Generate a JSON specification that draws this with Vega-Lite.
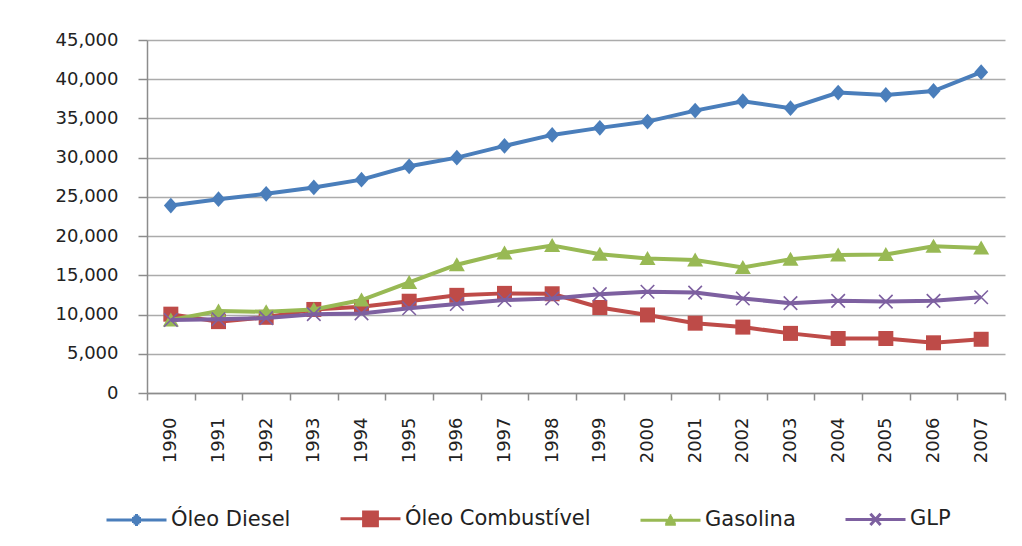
{
  "$schema": "https://vega.github.io/schema/vega-lite/v6.json",
  "width": 858,
  "height": 353,
  "autosize": {"type": "none"},
  "padding": {"left": 147, "top": 40, "right": 17, "bottom": 153},
  "background": "white",
  "config": {"view": {"stroke": null}, "font": "DejaVu Sans"},
  "datasets": {
    "d": [
      {"ano": "1990", "serie": "Óleo Diesel", "valor": 23900},
      {"ano": "1991", "serie": "Óleo Diesel", "valor": 24700},
      {"ano": "1992", "serie": "Óleo Diesel", "valor": 25400},
      {"ano": "1993", "serie": "Óleo Diesel", "valor": 26200},
      {"ano": "1994", "serie": "Óleo Diesel", "valor": 27200},
      {"ano": "1995", "serie": "Óleo Diesel", "valor": 28900},
      {"ano": "1996", "serie": "Óleo Diesel", "valor": 30000},
      {"ano": "1997", "serie": "Óleo Diesel", "valor": 31500},
      {"ano": "1998", "serie": "Óleo Diesel", "valor": 32900},
      {"ano": "1999", "serie": "Óleo Diesel", "valor": 33800},
      {"ano": "2000", "serie": "Óleo Diesel", "valor": 34600},
      {"ano": "2001", "serie": "Óleo Diesel", "valor": 36000},
      {"ano": "2002", "serie": "Óleo Diesel", "valor": 37200},
      {"ano": "2003", "serie": "Óleo Diesel", "valor": 36300},
      {"ano": "2004", "serie": "Óleo Diesel", "valor": 38300},
      {"ano": "2005", "serie": "Óleo Diesel", "valor": 38000},
      {"ano": "2006", "serie": "Óleo Diesel", "valor": 38500},
      {"ano": "2007", "serie": "Óleo Diesel", "valor": 40900},
      {"ano": "1990", "serie": "Óleo Combustível", "valor": 10050},
      {"ano": "1991", "serie": "Óleo Combustível", "valor": 9100},
      {"ano": "1992", "serie": "Óleo Combustível", "valor": 9650},
      {"ano": "1993", "serie": "Óleo Combustível", "valor": 10650},
      {"ano": "1994", "serie": "Óleo Combustível", "valor": 11000},
      {"ano": "1995", "serie": "Óleo Combustível", "valor": 11700},
      {"ano": "1996", "serie": "Óleo Combustível", "valor": 12450},
      {"ano": "1997", "serie": "Óleo Combustível", "valor": 12700},
      {"ano": "1998", "serie": "Óleo Combustível", "valor": 12650},
      {"ano": "1999", "serie": "Óleo Combustível", "valor": 10900},
      {"ano": "2000", "serie": "Óleo Combustível", "valor": 9950},
      {"ano": "2001", "serie": "Óleo Combustível", "valor": 8900},
      {"ano": "2002", "serie": "Óleo Combustível", "valor": 8400},
      {"ano": "2003", "serie": "Óleo Combustível", "valor": 7600},
      {"ano": "2004", "serie": "Óleo Combustível", "valor": 6950},
      {"ano": "2005", "serie": "Óleo Combustível", "valor": 6950},
      {"ano": "2006", "serie": "Óleo Combustível", "valor": 6400},
      {"ano": "2007", "serie": "Óleo Combustível", "valor": 6850},
      {"ano": "1990", "serie": "Gasolina", "valor": 9300},
      {"ano": "1991", "serie": "Gasolina", "valor": 10450},
      {"ano": "1992", "serie": "Gasolina", "valor": 10350},
      {"ano": "1993", "serie": "Gasolina", "valor": 10650},
      {"ano": "1994", "serie": "Gasolina", "valor": 11850},
      {"ano": "1995", "serie": "Gasolina", "valor": 14100},
      {"ano": "1996", "serie": "Gasolina", "valor": 16350},
      {"ano": "1997", "serie": "Gasolina", "valor": 17850},
      {"ano": "1998", "serie": "Gasolina", "valor": 18800},
      {"ano": "1999", "serie": "Gasolina", "valor": 17700},
      {"ano": "2000", "serie": "Gasolina", "valor": 17150},
      {"ano": "2001", "serie": "Gasolina", "valor": 16950},
      {"ano": "2002", "serie": "Gasolina", "valor": 16000},
      {"ano": "2003", "serie": "Gasolina", "valor": 17050},
      {"ano": "2004", "serie": "Gasolina", "valor": 17600},
      {"ano": "2005", "serie": "Gasolina", "valor": 17650},
      {"ano": "2006", "serie": "Gasolina", "valor": 18700},
      {"ano": "2007", "serie": "Gasolina", "valor": 18500},
      {"ano": "1990", "serie": "GLP", "valor": 9300},
      {"ano": "1991", "serie": "GLP", "valor": 9400},
      {"ano": "1992", "serie": "GLP", "valor": 9550},
      {"ano": "1993", "serie": "GLP", "valor": 10050},
      {"ano": "1994", "serie": "GLP", "valor": 10150},
      {"ano": "1995", "serie": "GLP", "valor": 10800},
      {"ano": "1996", "serie": "GLP", "valor": 11350},
      {"ano": "1997", "serie": "GLP", "valor": 11850},
      {"ano": "1998", "serie": "GLP", "valor": 12050},
      {"ano": "1999", "serie": "GLP", "valor": 12600},
      {"ano": "2000", "serie": "GLP", "valor": 12900},
      {"ano": "2001", "serie": "GLP", "valor": 12800},
      {"ano": "2002", "serie": "GLP", "valor": 12050},
      {"ano": "2003", "serie": "GLP", "valor": 11450},
      {"ano": "2004", "serie": "GLP", "valor": 11750},
      {"ano": "2005", "serie": "GLP", "valor": 11650},
      {"ano": "2006", "serie": "GLP", "valor": 11750},
      {"ano": "2007", "serie": "GLP", "valor": 12200}
    ]
  },
  "data": {"name": "d"},
  "encoding": {
    "x": {
      "field": "ano",
      "type": "ordinal",
      "scale": {"type": "band", "paddingInner": 0, "paddingOuter": 0},
      "axis": {
        "title": null,
        "labelAngle": -90,
        "tickBand": "extent",
        "tickSize": 7,
        "labelPadding": 17,
        "labelFontSize": 18,
        "labelFont": "DejaVu Sans",
        "labelColor": "#222222",
        "domainColor": "#8c8c8c",
        "domainWidth": 1.5,
        "tickColor": "#8c8c8c",
        "tickWidth": 1.5,
        "grid": false
      }
    },
    "y": {
      "field": "valor",
      "type": "quantitative",
      "scale": {"domain": [0, 45000], "nice": false},
      "axis": {
        "title": null,
        "values": [0, 5000, 10000, 15000, 20000, 25000, 30000, 35000, 40000, 45000],
        "format": ",.0f",
        "tickSize": 9,
        "labelPadding": 20,
        "labelFontSize": 18,
        "labelFont": "DejaVu Sans",
        "labelColor": "#222222",
        "domainColor": "#8c8c8c",
        "domainWidth": 1.5,
        "tickColor": "#8c8c8c",
        "tickWidth": 1.5,
        "grid": true,
        "gridColor": "#ababab",
        "gridWidth": 1.3
      }
    },
    "color": {
      "field": "serie",
      "type": "nominal",
      "scale": {
        "domain": ["Óleo Diesel", "Óleo Combustível", "Gasolina", "GLP"],
        "range": ["#4a7ebb", "#be4b48", "#98b954", "#7d60a0"]
      },
      "legend": null
    }
  },
  "layer": [
    {
      "mark": {"type": "point", "filled": false, "size": 0},
      "encoding": {
        "color": {
          "field": "serie",
          "type": "nominal",
          "legend": {
            "title": null,
            "orient": "none",
            "legendX": -42,
            "legendY": 447,
            "direction": "horizontal",
            "columns": 4,
            "symbolSize": 3600,
            "symbolStrokeWidth": 3,
            "symbolOpacity": 1,
            "labelFontSize": 21,
            "labelFont": "DejaVu Sans",
            "labelColor": "#222222",
            "labelOffset": 3,
            "labelLimit": 400,
            "columnPadding": 43,
            "padding": 0
          }
        },
        "shape": {
          "field": "serie",
          "type": "nominal",
          "scale": {
            "domain": ["Óleo Diesel", "Óleo Combustível", "Gasolina", "GLP"],
            "range": [
              "M-1,0H1M-0.05,-0.15H0.05M-0.1,-0.1H0.1M-0.15,-0.05H0.15M-0.15,0.05H0.15M-0.1,0.1H0.1M-0.05,0.15H0.05",
              "M-1,0H1M-0.28,-0.23H0.28M-0.28,-0.14H0.28M-0.28,-0.05H0.28M-0.28,0.05H0.28M-0.28,0.14H0.28M-0.28,0.23H0.28",
              "M-1,0H1M-0.027,-0.15H0.027M-0.054,-0.1H0.054M-0.081,-0.05H0.081M-0.135,0.05H0.135M-0.162,0.1H0.162M-0.178,0.13H0.178",
              "M-1,0H1M-0.17,-0.19L0.17,0.19M-0.17,0.19L0.17,-0.19"
            ]
          },
          "legend": null
        }
      }
    },
    {
      "transform": [{"filter": "datum.serie === 'Óleo Diesel'"}],
      "mark": {"type": "line", "strokeWidth": 4, "point": {"filled": true, "shape": "M0,-1.05L0.93,0L0,1.05L-0.93,0Z", "size": 225}}
    },
    {
      "transform": [{"filter": "datum.serie === 'Óleo Combustível'"}],
      "mark": {"type": "line", "strokeWidth": 4, "point": {"filled": true, "shape": "M-1,-1H1V1H-1Z", "size": 225}}
    },
    {
      "transform": [{"filter": "datum.serie === 'Gasolina'"}],
      "mark": {"type": "line", "strokeWidth": 4, "point": {"filled": true, "shape": "M0,-1L1.07,0.87L-1.07,0.87Z", "size": 225}}
    },
    {
      "transform": [{"filter": "datum.serie === 'GLP'"}],
      "mark": {"type": "line", "strokeWidth": 4, "point": {"filled": false, "shape": "M-0.9,-0.9L0.9,0.9M-0.9,0.9L0.9,-0.9", "size": 225, "strokeWidth": 1.6}}
    }
  ]
}
